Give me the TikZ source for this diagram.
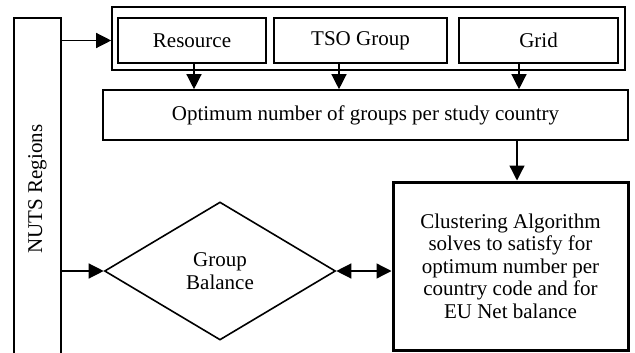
\documentclass[tikz,border=0pt]{standalone}
\usepackage{fontspec}
\setmainfont{Liberation Serif}
\usetikzlibrary{arrows.meta,shapes.geometric}
\begin{document}
\begin{tikzpicture}[x=1pt,y=-1pt,
  every node/.style={font=\fontsize{21}{22.5}\selectfont, inner sep=0pt},
  box/.style={draw, line width=1.6pt, rectangle},
  arr/.style={line width=1.3pt, -{Triangle[length=15pt,width=15pt]}},
  arrtwo/.style={line width=1.3pt, {Triangle[length=15pt,width=15pt]}-{Triangle[length=15pt,width=15pt]}}]
\useasboundingbox (0,0) rectangle (635,353);
\node[box, minimum width=47pt, minimum height=342pt] (nuts) at (37.5,189) {\rotatebox{90}{NUTS Regions}};
\node[box, minimum width=513pt, minimum height=63pt] (outer) at (368.5,38.5) {};
\node[box, minimum width=148pt, minimum height=45pt] (res) at (192,40.5) {Resource};
\node[box, minimum width=173pt, minimum height=45pt] (tso) at (360.5,40.5) {TSO Group};
\node[box, minimum width=159pt, minimum height=45pt] (grid) at (538.5,40.5) {Grid};
\node[box, minimum width=525pt, minimum height=50pt] (opt) at (365.5,115) {Optimum number of groups per study country};
\node[draw, line width=3pt, minimum width=235pt, minimum height=168pt, align=center] (clu) at (510.5,266)
  {Clustering Algorithm\\solves to satisfy for\\optimum number per\\country code and for\\EU Net balance};
\node[draw, diamond, line width=1.6pt, minimum width=231pt, minimum height=138pt, align=center] (dia) at (220,271) {Group\\Balance};
\draw[arr] (nuts.east |- res.west) -- (outer.west |- res.west);
\draw[arr] ([xshift=2pt]res.south) -- ([xshift=2pt]res.south |- opt.north);
\draw[arr] ([xshift=-21.5pt]tso.south) -- ([xshift=-21.5pt]tso.south |- opt.north);
\draw[arr] ([xshift=-19.5pt]grid.south) -- ([xshift=-19.5pt]grid.south |- opt.north);
\draw[arr] ([xshift=6.5pt]clu.north |- opt.south) -- ([xshift=6.5pt]clu.north);
\draw[arr] (nuts.east |- dia.west) -- (dia.west);
\draw[arrtwo] (dia.east) -- (clu.west |- dia.east);
\end{tikzpicture}
\end{document}
